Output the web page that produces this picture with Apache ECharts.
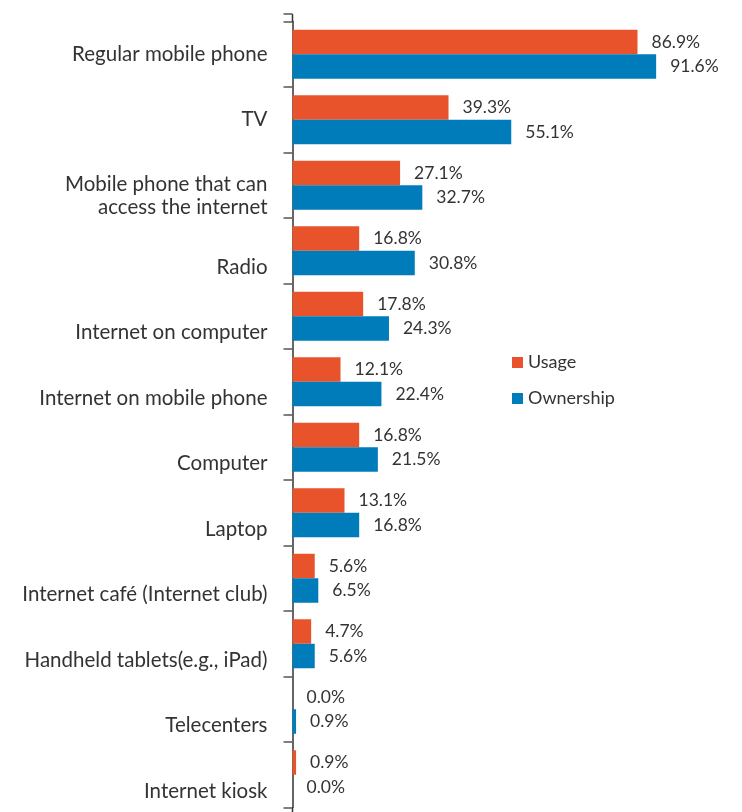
<!DOCTYPE html>
<html>
<head>
<meta charset="utf-8">
<script src="https://cdn.jsdelivr.net/npm/echarts@6/dist/echarts.min.js"></script>
<style>
html,body{margin:0;padding:0;background:#fff;}
#chart{width:742px;height:812px;}
</style>
</head>
<body>
<div id="chart"></div>
<script>
var categories = [
  'Regular mobile phone',
  'TV',
  'Mobile phone that can\naccess the internet',
  'Radio',
  'Internet on computer',
  'Internet on mobile phone',
  'Computer',
  'Laptop',
  'Internet café (Internet club)',
  'Handheld tablets(e.g., iPad)',
  'Telecenters',
  'Internet kiosk'
];
var usage = [86.9, 39.3, 27.1, 16.8, 17.8, 12.1, 16.8, 13.1, 5.6, 4.7, 0.0, 0.9];
var ownership = [91.6, 55.1, 32.7, 30.8, 24.3, 22.4, 21.5, 16.8, 6.5, 5.6, 0.9, 0.0];
var seriesNames = ['Usage', 'Ownership'];
var colors = ['#E9532C', '#007CBA'];

var chart = echarts.init(document.getElementById('chart'));
var FONT = 'Lato';
var GRID_LEFT = 292.5, GRID_TOP = 21.5, GRID_W = 397, GRID_H = 786;
// category labels in the reference sit at slightly different vertical offsets
var labelGroups = [
  { shift: 0, from: 0, to: 1 },
  { shift: 11, from: 2, to: 2 },
  { shift: 16.5, from: 3, to: 11 }
];

var valueLabel = {
  show: true,
  position: 'right',
  distance: 14,
  fontFamily: FONT,
  fontSize: 17.5,
  color: '#333333',
  formatter: function (p) { return p.value.toFixed(1) + '%'; }
};

var grids = [], xAxes = [], yAxes = [];
labelGroups.forEach(function (g, gi) {
  grids.push({ left: GRID_LEFT, top: GRID_TOP + g.shift, width: GRID_W, height: GRID_H, containLabel: false, outerBoundsMode: 'none' });
  xAxes.push({ type: 'value', gridIndex: gi, min: 0, max: 100, show: false });
  yAxes.push({
    type: 'category',
    gridIndex: gi,
    inverse: true,
    data: categories,
    axisLine: { show: gi === 0, lineStyle: { color: '#333333', width: 1.5 } },
    axisTick: { show: gi === 0, length: 9, lineStyle: { color: '#555555', width: 1.5 } },
    axisLabel: {
      margin: 25,
      fontFamily: FONT,
      fontSize: 20.5,
      color: '#333333',
      lineHeight: 23,
      align: 'right',
      formatter: function (v, i) { return (i >= g.from && i <= g.to) ? v : ''; }
    },
    splitLine: { show: false }
  });
});

chart.setOption({
  animation: false,
  textStyle: { fontFamily: FONT },
  grid: grids,
  legend: {
    orient: 'vertical',
    left: 512,
    top: 353.5,
    padding: 0,
    itemWidth: 11,
    itemHeight: 11,
    itemGap: 18,
    icon: 'rect',
    textStyle: { fontFamily: FONT, fontSize: 18, color: '#333333' },
    data: seriesNames
  },
  xAxis: xAxes,
  yAxis: yAxes,
  series: [
    {
      name: seriesNames[0],
      type: 'bar',
      xAxisIndex: 0,
      yAxisIndex: 0,
      data: usage,
      barWidth: 24.5,
      barGap: '0%',
      itemStyle: { color: colors[0] },
      label: valueLabel
    },
    {
      name: seriesNames[1],
      type: 'bar',
      xAxisIndex: 0,
      yAxisIndex: 0,
      data: ownership,
      barWidth: 24.5,
      barGap: '0%',
      itemStyle: { color: colors[1] },
      label: valueLabel
    }
  ],
  graphic: [
    { type: 'line', shape: { x1: 292.5, y1: 14, x2: 292.5, y2: 22 }, style: { stroke: '#333333', lineWidth: 1.5 } },
    { type: 'line', shape: { x1: 283.5, y1: 14, x2: 292.5, y2: 14 }, style: { stroke: '#555555', lineWidth: 1.5 } },
    { type: 'line', shape: { x1: 292.5, y1: 807, x2: 292.5, y2: 812 }, style: { stroke: '#333333', lineWidth: 1.5 } }
  ]
});
</script>
</body>
</html>
